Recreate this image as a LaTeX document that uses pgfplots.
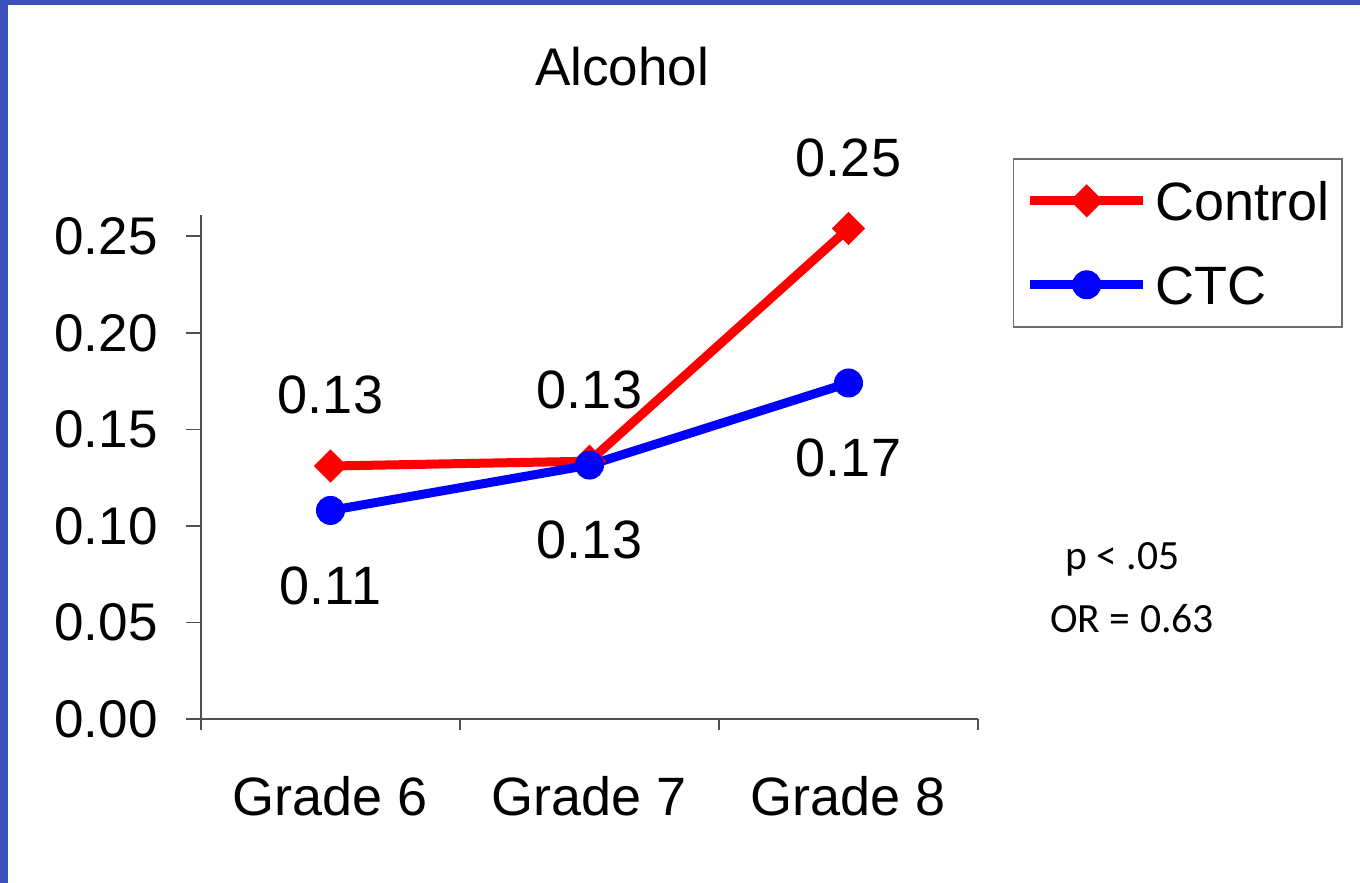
\documentclass[border=0pt]{standalone}
\usepackage{pgfplots}
\pgfplotsset{compat=1.18}
\usepackage{fontspec}
\setmainfont{Liberation Sans}
\newfontfamily\calibri{Carlito}
\definecolor{slideblue}{RGB}{60,80,185}
\definecolor{axisgray}{RGB}{80,80,80}
\definecolor{boxgray}{RGB}{110,110,110}

\begin{document}
\begin{tikzpicture}[x=0.5pt,y=0.5pt]
\useasboundingbox (0,0) rectangle (1360,883);
\fill[white] (0,0) rectangle (1360,883);
\fill[slideblue] (0,878) rectangle (1360,883);
\fill[slideblue] (0,0) rectangle (8,883);
\begin{axis}[
  at={(100.5pt,82pt)}, anchor=south west,
  scale only axis, width=388.5pt, height=252pt,
  xmin=0.5, xmax=3.5, ymin=0, ymax=0.261,
  axis x line*=bottom, axis y line*=left,
  axis line style={axisgray, line width=0.75pt, -},
  xtick={1,2,3}, xticklabels={Grade 6, Grade 7, Grade 8},
  major x tick style={draw=none},
  minor xtick={0.5,1.5,2.5,3.5},
  ytick={0,0.05,0.1,0.15,0.2,0.25},
  yticklabels={0.00,0.05,0.10,0.15,0.20,0.25},
  tick align=outside,
  tick style={axisgray, line width=0.75pt},
  minor tick length=5.5pt,
  major tick length=7.5pt,
  yticklabel style={font=\fontsize{26.5}{30}\selectfont, anchor=east, inner sep=0pt, xshift=-14pt},
  xticklabel style={font=\fontsize{27}{30}\selectfont, anchor=base, inner sep=0pt, yshift=-41pt},
  title={Alcohol},
  title style={font=\fontsize{26.5}{30}\selectfont, at={(axis description cs:0.5418,1.270)}, anchor=center, inner sep=0pt},
  clip=false,
  legend style={at={(axis description cs:1.045,1.113)}, anchor=north west,
    draw=boxgray, line width=0.75pt, fill=white,
    font=\fontsize{27}{30}\selectfont,
    inner xsep=6pt, inner ysep=11pt,
    nodes={inner sep=0pt, text height=20pt, text depth=0pt},
    row sep=22pt, column sep=4pt,
    cells={anchor=west}},
  legend image code/.code={
    \path (0pt,0pt) -- (56.5pt,0pt);
    \draw[#1, line cap=round, mark repeat=2, mark phase=2] plot coordinates {(2.25pt,0pt) (28.25pt,0pt) (54.25pt,0pt)};
  },
  point meta=y,
  nodes near coords={\pgfmathprintnumber[fixed,fixed zerofill,precision=2,assume math mode=true]{\pgfplotspointmeta}},
  every node near coord/.append style={black, font=\fontsize{27}{30}\selectfont, anchor=center, inner sep=0pt},
]
\addplot[red, line width=4.5pt, mark=square*, mark size=5.6pt,
  mark options={rotate=45, line width=0.5pt, solid},
  every node near coord/.append style={yshift=35.5pt}]
  coordinates {(1,0.131) (2,0.1335) (3,0.254)};
\addlegendentry{Control}
\addplot[blue, line width=4.5pt, mark=*, mark size=7pt,
  mark options={line width=0.5pt, solid},
  every node near coord/.append style={yshift=-37.5pt}]
  coordinates {(1,0.108) (2,0.1315) (3,0.174)};
\addlegendentry{CTC}
\end{axis}
\node[anchor=base west, inner sep=0pt, font=\calibri\fontsize{20.8}{24}\selectfont] at (1065,313) {p < .05};
\node[anchor=base west, inner sep=0pt, font=\calibri\fontsize{20.8}{24}\selectfont] at (1050,250) {OR = 0.63};
\end{tikzpicture}
\end{document}
